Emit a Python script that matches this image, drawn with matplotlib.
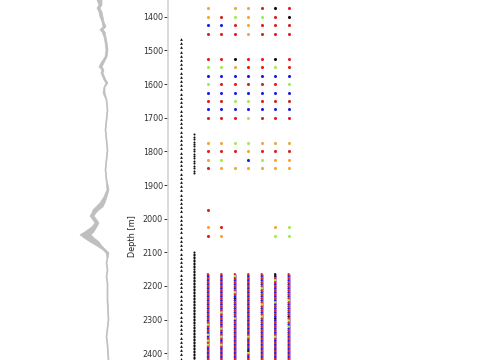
import numpy as np
import matplotlib
matplotlib.use('Agg')
import matplotlib.pyplot as plt

# -------------------------
# DATA
# -------------------------
# grey log band on the left: depth [m] and the two edges of the band
LOG_DEPTH = [1350, 1365, 1374, 1386, 1400, 1415, 1430, 1438, 1445, 1460, 1475,
             1499, 1519, 1537, 1549, 1558, 1567, 1588, 1597, 1608, 1626, 1647,
             1677, 1707, 1736, 1766, 1796, 1825, 1855, 1885, 1914, 1935, 1953,
             1965, 1974, 1983, 1992, 2004, 2013, 2024, 2039, 2048, 2057, 2069,
             2081, 2093, 2102, 2117, 2131, 2152, 2173, 2191, 2241, 2301, 2351,
             2375, 2420]
LOG_LEFT = [97, 99, 97, 99, 100, 102, 103, 100, 102, 104, 105,
            106, 105, 101, 99, 102, 101, 104, 106, 104, 103, 106,
            107, 106, 105, 106, 107, 106, 105, 106, 107, 104, 100,
            96, 93, 92, 90, 93, 95, 92, 85, 80, 84, 90,
            97, 103, 106, 107, 106, 107, 106, 107, 107, 108, 106,
            107, 108]
LOG_RIGHT = [102, 102, 100, 102, 103, 104, 106, 103, 105, 106, 107,
             108, 107, 104, 102, 104, 103, 106, 108, 105, 105, 107,
             108, 107, 106, 107, 108, 107, 106, 107, 109, 107, 105,
             103, 99, 96, 94, 97, 99, 97, 94, 91, 94, 99,
             102, 106, 109, 108, 107, 108, 107, 108, 108, 109, 107,
             108, 109]

# column 0: triangles, column 1: small black dots
TRI_START, TRI_STEP, TRI_END = 1466, 12.5, 2420
DOT_UPPER_START, DOT_UPPER_STEP, DOT_UPPER_COUNT = 1749, 7.2, 17
DOT_LOWER_START, DOT_LOWER_STEP, DOT_LOWER_END = 2100, 4.5, 2420

# columns 2..8: single sample rows (one code per column, '.' = no sample)
ROW_DEPTHS = [1375, 1400, 1425, 1450, 1525, 1550, 1575, 1600, 1625, 1650,
              1675, 1700, 1775, 1800, 1825, 1850, 1975, 2025, 2050]
ROW_CODES = ["o.oorkr", "orgogrk", "bbrorrr", "rrrorrr", "rrkrrkr",
             "ggorrgr", "bbbbbbb", "grrrrrg", "bbbbbbb", "rrggrrr",
             "bbbbbbb", "rrrgrrr", "ooggooo", "rrrorrr", "og.bgoo",
             "roooooo", "r......", "or...og", "ro...gg"]

# columns 2..8: dense section from 2165 m, one code every 6 m
DENSE_START, DENSE_STEP = 2165, 6
DENSE_CODES = [
    "rbrbrbrbrb rbrbrbrbrb rbrbrgrbrb ybrgrgrbrb rbr",
    "rbrbrbrbrb rbrbrbrbrg rbrbrbrgrb rgrbryrbrb rbr",
    "rgrbrbrbrg rbkbrbrbrb rbybrbrbrb rbrbrbrbrb rbr",
    "rbrbrbrbrb rbrbrbrbrb rbrbrbrbrb rgrbrbrbky rbr",
    "rbrbrbrgrb rbrbryrbrb rgrbrbrbrb rbrbrbrbrb rbr",
    "kkrgrbrbrb rbrbgbrbrb rbkbrbrbrb rgrbrbrbrb rbr",
    "rbrbrbrbrb rbrgrbrbrb rkrgrbgbrb rbrbrbrbrb rbr",
]

COLORS = {"r": "#dc2222", "o": "#f0a83c", "g": "#a2ec50", "b": "#2020e4",
          "k": "#111111", "y": "#dcd84a"}

YTICKS = [1400, 1500, 1600, 1700, 1800, 1900, 2000, 2100, 2200, 2300, 2400]
Y_TOP, Y_BOTTOM = 1350, 2420

# -------------------------
# FIGURE
# -------------------------
fig = plt.figure(figsize=(4.85, 3.6), dpi=100)

# left panel: grey log band, no axes drawn
ax_log = fig.add_axes([0, 0, 160 / 485, 1])
ax_log.fill_betweenx(LOG_DEPTH, LOG_LEFT, LOG_RIGHT, color="#bfbfbf",
                     edgecolor="#bfbfbf", linewidth=0.5)
ax_log.set_xlim(0, 160)
ax_log.set_ylim(Y_BOTTOM, Y_TOP)
ax_log.axis("off")

# right panel: sample columns
ax = fig.add_axes([168 / 485, 0, 1 - 168 / 485, 1])
ax.set_xlim(-0.967, 22.6)
ax.set_ylim(Y_BOTTOM, Y_TOP)

tri_d = np.arange(TRI_START, TRI_END, TRI_STEP)
ax.scatter(np.zeros_like(tri_d), tri_d, marker="^", s=4, c="#111111",
           linewidths=0)

dot_up = DOT_UPPER_START + DOT_UPPER_STEP * np.arange(DOT_UPPER_COUNT)
dot_lo = np.arange(DOT_LOWER_START, DOT_LOWER_END, DOT_LOWER_STEP)
dot_d = np.concatenate([dot_up, dot_lo])
ax.scatter(np.ones_like(dot_d), dot_d, marker="o", s=2.2, c="#111111",
           linewidths=0)

# single rows
for depth, codes in zip(ROW_DEPTHS, ROW_CODES):
    for i, ch in enumerate(codes):
        if ch == ".":
            continue
        ax.scatter([2 + i], [depth], marker="o", s=5, c=COLORS[ch],
                   linewidths=0)

# dense section with a thin violet halo behind the dots
for i, codes in enumerate(DENSE_CODES):
    codes = codes.replace(" ", "")
    d = DENSE_START + DENSE_STEP * np.arange(len(codes))
    ax.plot([2 + i, 2 + i], [d[0] - 2, Y_BOTTOM], color="#b98ad8",
            linewidth=2.0, solid_capstyle="butt", zorder=1)
    ax.scatter(np.full(len(d), 2 + i), d, marker="o", s=2.8,
               c=[COLORS[ch] for ch in codes], linewidths=0, zorder=2)

ax.set_yticks(YTICKS)
ax.set_xticks([])
ax.tick_params(axis="y", labelsize=5.8, length=2.6, width=0.7, pad=1,
               colors="#333333")
for side in ["top", "right", "bottom"]:
    ax.spines[side].set_visible(False)
ax.spines["left"].set_color("#d4d4d4")
ax.spines["left"].set_linewidth(1.2)

ax.set_ylabel("Depth [m]", fontsize=5.9, color="#222222")
ax.yaxis.set_label_coords(-0.098, 1 - 236 / 360)

fig.savefig("out.png", dpi=100)
